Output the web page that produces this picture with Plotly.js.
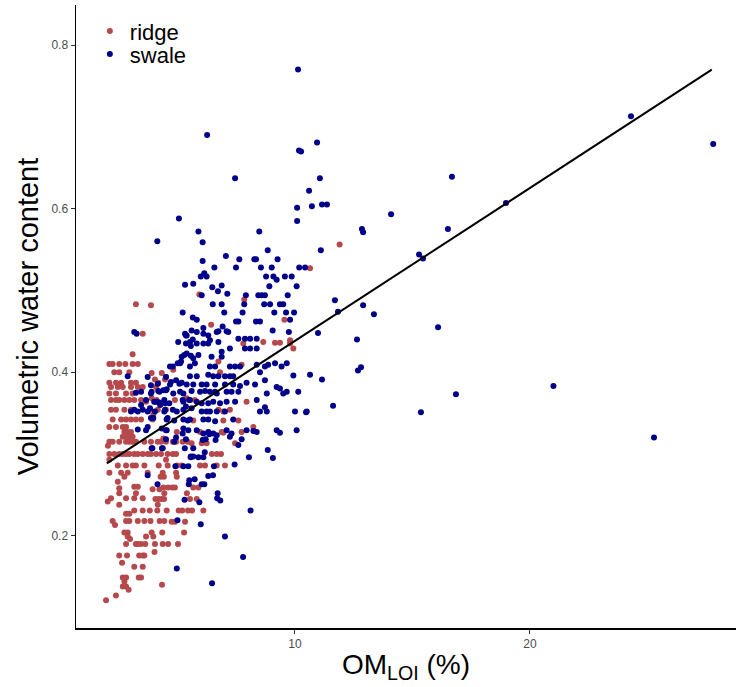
<!DOCTYPE html>
<html>
<head>
<meta charset="utf-8">
<script src="https://cdn.plot.ly/plotly-3.0.1.min.js"></script>
<style>html,body{margin:0;padding:0;background:#fff;}#chart{width:736px;height:687px;}</style>
</head>
<body>
<div id="chart"></div>
<script>
// Ridge points: [OM_LOI (%), volumetric water content]
const ridgePoints = [
  [3.23,0.483],[3.87,0.482],[5.93,0.495],[7.84,0.489],[6.43,0.458],[9.55,0.464],[9.79,0.439],[10.64,0.527],[11.9,0.556],[3.52,0.447],[3.09,0.422],
  [8.65,0.437],[9.15,0.436],[9.36,0.436],[9.79,0.435],[9.93,0.429],[7.8,0.435],[7.73,0.409],[6.74,0.413],[6.81,0.400],
  [2.10,0.41],[2.24,0.41],[2.52,0.41],[2.78,0.41],[3.09,0.41],[3.31,0.41],
  [2.31,0.40],[2.52,0.40],[2.95,0.40],[3.90,0.399],[4.33,0.399],[4.82,0.403],
  [4.04,0.391],[4.47,0.391],[4.51,0.394],
  [2.10,0.387],[2.38,0.387],[2.60,0.387],[3.02,0.387],[3.23,0.387],[4.18,0.387],
  [2.17,0.382],[2.46,0.382],[2.67,0.382],[3.02,0.382],[3.31,0.382],[3.52,0.382],[4.09,0.382],
  [2.10,0.374],[2.38,0.374],[2.81,0.374],[3.09,0.374],
  [2.17,0.366],[2.38,0.366],[2.52,0.366],[2.74,0.366],[2.95,0.366],[3.16,0.366],[3.45,0.366],[3.90,0.368],[4.11,0.366],[4.89,0.366],[5.39,0.368],[5.74,0.366],
  [3.66,0.364],[4.02,0.364],[7.94,0.364],
  [2.17,0.354],[2.38,0.354],[2.74,0.354],[3.02,0.354],[3.83,0.354],[4.16,0.354],[4.51,0.354],[6.74,0.354],[6.95,0.352],[7.23,0.354],
  [3.97,0.348],
  [2.24,0.342],[2.60,0.342],[2.81,0.342],[3.02,0.342],[3.23,0.342],[3.45,0.342],[3.94,0.342],[5.67,0.341],[6.95,0.341],[7.59,0.341],
  [2.10,0.333],[2.38,0.333],[2.67,0.333],[2.81,0.333],[8.23,0.333],
  [2.74,0.327],[2.88,0.327],[3.02,0.327],[4.97,0.327],[5.96,0.327],[6.88,0.327],[7.73,0.327],[6.95,0.326],
  [2.67,0.321],[2.88,0.321],[3.09,0.321],[4.40,0.319],
  [2.10,0.315],[2.24,0.315],[2.52,0.315],[2.81,0.315],[2.95,0.315],[3.09,0.315],[3.23,0.315],[3.59,0.315],[3.87,0.315],[4.16,0.315],[4.30,0.315],[4.51,0.315],[4.80,0.315],[4.94,0.315],[5.22,0.315],[5.43,0.315],[5.60,0.313],[6.03,0.313],[6.24,0.313],[7.45,0.313],
  [2.04,0.310],
  [2.10,0.300],[2.31,0.300],[2.52,0.300],[2.67,0.300],[2.81,0.300],[2.95,0.300],[3.16,0.300],[3.31,0.300],[3.52,0.300],[3.73,0.300],[3.87,0.300],[4.09,0.300],[4.30,0.300],[4.58,0.300],[4.80,0.300],[4.94,0.300],[6.46,0.300],[6.67,0.300],[6.85,0.300],
  [2.10,0.293],[4.51,0.293],
  [2.46,0.286],[2.81,0.286],[3.09,0.286],[3.23,0.286],[3.59,0.286],[4.20,0.286],[4.58,0.286],[4.98,0.286],[5.18,0.286],[5.96,0.286],[6.17,0.286],[6.67,0.286],[7.02,0.286],
  [2.10,0.277],[2.60,0.277],[2.88,0.277],[3.73,0.277],[4.37,0.277],[4.94,0.277],
  [2.74,0.272],[4.28,0.272],[4.42,0.272],[4.97,0.272],
  [2.46,0.266],
  [3.16,0.260],[3.31,0.260],[4.40,0.259],[4.60,0.259],[4.78,0.259],[4.89,0.259],[5.67,0.259],[5.89,0.259],
  [2.52,0.258],[3.94,0.257],[4.23,0.257],
  [2.52,0.252],[3.23,0.252],[4.44,0.252],[5.40,0.252],
  [2.17,0.246],[2.81,0.246],[3.16,0.246],[3.52,0.246],[4.06,0.245],[4.20,0.245],[4.33,0.245],[4.43,0.245],[5.53,0.245],[5.82,0.245],
  [2.03,0.242],
  [2.52,0.238],[4.16,0.238],
  [3.16,0.231],[3.52,0.231],[3.82,0.231],[4.14,0.231],[4.54,0.231],[5.05,0.231],[5.20,0.231],[5.45,0.231],[5.62,0.231],[6.10,0.231],
  [2.81,0.227],[2.95,0.227],
  [2.24,0.218],[2.81,0.218],[2.95,0.218],[3.31,0.218],[3.59,0.218],[3.85,0.218],[4.24,0.218],[4.44,0.218],[4.75,0.217],[4.89,0.217],[5.32,0.217],
  [2.34,0.213],
  [2.74,0.204],[2.88,0.204],[3.90,0.204],[4.35,0.204],[5.28,0.204],
  [2.88,0.199],[3.66,0.199],[3.97,0.199],
  [2.98,0.196],
  [2.81,0.190],[3.23,0.190],[3.31,0.190],[3.45,0.190],[3.63,0.190],[4.04,0.190],[4.37,0.190],[4.60,0.190],[5.02,0.190],
  [4.02,0.180],
  [2.52,0.176],[2.85,0.176],[3.37,0.176],[3.52,0.176],[3.59,0.176],
  [2.64,0.167],
  [3.16,0.162],[3.52,0.162],
  [2.67,0.149],[2.81,0.149],[3.35,0.149],[3.45,0.149],
  [2.74,0.144],[4.34,0.140],
  [2.67,0.138],[2.81,0.138],[2.92,0.134],
  [2.38,0.127],[1.96,0.121]
];

// Swale points: [OM_LOI (%), volumetric water content]
const swalePoints = [
  [10.13,0.770],[24.3,0.713],[27.8,0.679],[6.26,0.690],[10.17,0.671],[10.26,0.670],[10.94,0.681],[11.06,0.637],[7.45,0.637],
  [10.6,0.622],[10.72,0.603],[11.15,0.605],[11.36,0.605],[10.09,0.601],[18.98,0.607],[16.51,0.575],[16.68,0.639],[14.09,0.593],
  [12.85,0.575],[12.9,0.571],[5.06,0.588],[10.09,0.585],[15.28,0.544],[15.45,0.539],[11.1,0.549],
  [11.7,0.488],[11.83,0.474],[13.36,0.471],[12.9,0.482],[16.09,0.455],[12.64,0.440],[12.81,0.406],[9.74,0.449],[10.98,0.448],
  [10.64,0.397],[11.15,0.391],[10.47,0.351],[11.62,0.359],[12.68,0.402],[16.85,0.373],[21.0,0.383],[15.36,0.351],[25.28,0.320],
  [6.47,0.142],[7.79,0.174],[8.11,0.231],[7.02,0.199],[4.97,0.160],
  [5.89,0.572],[8.48,0.572],[4.14,0.560],[6.07,0.559],[8.84,0.549],[7.06,0.542],[7.63,0.538],[8.27,0.538],[8.34,0.538],[9.26,0.538],
  [6.07,0.536],[6.57,0.528],[7.49,0.528],[8.55,0.528],[9.01,0.528],[10.18,0.528],[10.43,0.528],[6.14,0.521],[6.24,0.517],[5.99,0.517],
  [8.77,0.517],[9.08,0.517],[9.22,0.513],[9.57,0.517],[9.86,0.517],[5.32,0.507],[5.67,0.508],[6.88,0.506],[8.91,0.505],[10.07,0.505],
  [6.48,0.504],[6.72,0.499],[7.12,0.496],[6.03,0.494],[7.91,0.494],[8.44,0.494],[8.58,0.494],[8.72,0.494],[9.69,0.494],
  [6.50,0.483],[6.88,0.483],[7.84,0.483],[8.69,0.483],[8.94,0.483],[9.36,0.483],[9.50,0.483],
  [5.22,0.473],[6.99,0.473],[7.77,0.473],[9.12,0.473],[9.62,0.473],[9.96,0.473],[5.65,0.467],[5.82,0.464],[6.92,0.456],
  [7.49,0.462],[7.59,0.462],[8.34,0.462],[8.51,0.462],[9.79,0.464],[9.05,0.451],[6.1,0.454],[5.39,0.445],[5.60,0.451],[5.82,0.449],[6.74,0.450],[7.09,0.450],
  [5.32,0.447],[6.1,0.447],[6.31,0.445],[6.38,0.439],[6.67,0.449],[7.16,0.449],
  [5.03,0.437],[5.53,0.437],[5.82,0.435],[6.1,0.435],[6.31,0.435],[6.74,0.437],
  [7.59,0.441],[7.87,0.441],[8.09,0.441],[8.37,0.441],[7.23,0.429],[7.87,0.429],[8.09,0.429],[8.37,0.429],[6.88,0.425],
  [5.18,0.419],[5.39,0.423],[5.67,0.417],[5.89,0.421],[6.45,0.419],[6.88,0.419],
  [4.68,0.407],[5.11,0.411],[5.53,0.407],[5.74,0.411],[6.38,0.407],[6.6,0.407],[7.23,0.407],[7.45,0.407],[7.66,0.407],
  [8.37,0.409],[8.72,0.407],[8.86,0.409],[9.15,0.411],[9.43,0.407],[9.65,0.411],[8.51,0.400],
  [5.53,0.395],[5.82,0.395],[6.31,0.397],[6.52,0.395],[6.74,0.395],[7.02,0.395],[7.23,0.395],[7.37,0.395],
  [4.68,0.385],[5.18,0.387],[5.39,0.385],[5.67,0.385],[6.03,0.385],[6.24,0.385],[6.60,0.385],[7.02,0.385],[7.37,0.385],[7.66,0.383],[7.94,0.387],[8.30,0.385],
  [8.72,0.390],[9.22,0.382],[9.36,0.380],[9.50,0.374],[9.65,0.376],[9.93,0.396],[10.14,0.376],[8.80,0.374],
  [3.9,0.376],[4.18,0.377],[4.4,0.378],[4.54,0.379],[4.82,0.374],[5.11,0.376],[5.25,0.374],[5.6,0.377],[5.96,0.376],[6.17,0.377],
  [6.38,0.376],[6.6,0.376],[6.67,0.374],[7.09,0.376],[7.3,0.376],[7.59,0.376],
  [4.11,0.364],[4.26,0.360],[4.47,0.362],[5.25,0.364],[5.53,0.366],[5.82,0.364],[6.03,0.362],[6.31,0.362],[6.52,0.364],[6.81,0.362],[7.09,0.364],[7.45,0.364],[8.37,0.366],
  [3.83,0.356],[4.04,0.352],[4.47,0.354],[4.97,0.352],[5.25,0.354],[5.6,0.356],[6.03,0.352],[6.24,0.352],[6.38,0.352],[6.67,0.352],[7.02,0.352],
  [8.51,0.352],[8.72,0.357],[8.8,0.352],[10.0,0.352],[10.5,0.352],
  [3.97,0.344],[4.54,0.342],[5.25,0.342],[5.53,0.342],[6.1,0.342],[6.31,0.342],[6.6,0.340],[7.37,0.342],
  [4.33,0.331],[4.54,0.329],[5.25,0.331],[5.46,0.329],[5.82,0.329],[6.1,0.325],[6.31,0.327],[6.52,0.325],[7.09,0.329],[7.3,0.325],
  [7.94,0.329],[8.37,0.327],[9.22,0.329],[10.07,0.329],[6.67,0.323],[7.23,0.321],
  [3.16,0.449],[3.26,0.447],[5.36,0.445],[5.65,0.440],[5.36,0.435],[5.57,0.432],[5.29,0.421],[5.57,0.420],[5.15,0.413],[5.01,0.411],[4.80,0.407],
  [2.88,0.395],[3.73,0.394],[4.51,0.394],[4.72,0.388],[4.94,0.390],[5.08,0.386],[3.87,0.384],[4.16,0.386],
  [3.23,0.375],[3.45,0.376],[3.87,0.374],[4.23,0.376],[4.51,0.378],
  [3.66,0.366],[4.01,0.364],[4.23,0.363],[4.44,0.366],[4.65,0.362],[5.22,0.366],[5.50,0.366],[3.45,0.360],
  [3.16,0.354],[3.02,0.352],[3.31,0.352],[3.52,0.354],[3.73,0.352],[4.44,0.352],[4.80,0.354],[5.36,0.358],
  [3.87,0.344],[4.58,0.344],[4.86,0.341],[5.43,0.341],[3.73,0.333],[3.66,0.329],[4.51,0.329],[3.31,0.330],
  [3.73,0.274],[4.15,0.263],[4.91,0.285],[5.25,0.285],[5.46,0.285],[5.50,0.268],[5.30,0.244],[5.00,0.219],
  [3.93,0.307],[4.34,0.307],[4.51,0.318],[4.86,0.315],[5.22,0.325],[5.57,0.297],
  [9.36,0.326],[8.84,0.305],[9.06,0.295],[8.04,0.296],[7.43,0.287],[7.59,0.311],[7.73,0.318],[5.99,0.214],
  [6.71,0.252],[6.69,0.246],[6.82,0.243],[5.93,0.241],[5.73,0.269],[6.03,0.263],[6.14,0.263],[5.48,0.263],
  [6.31,0.273],[6.51,0.274],[6.55,0.285],[5.56,0.296],[5.67,0.297],[5.89,0.296],[6.1,0.296],[5.31,0.307],[5.67,0.307],
  [4.37,0.307],[3.9,0.307],[6.16,0.302],[5.36,0.318],[4.94,0.320],[6.07,0.317],[6.2,0.318],[6.62,0.317],[6.35,0.324],[8.23,0.328]
];

// Fitted line endpoints
const fitX = [1.99, 27.74];
const fitY = [0.2885, 0.770];

const xTicks = [10, 20];
const xTickText = ['10', '20'];
const yTicks = [0.2, 0.4, 0.6, 0.8];
const yTickText = ['0.2', '0.4', '0.6', '0.8'];

const FONT = '"Liberation Sans", Arial, Helvetica, sans-serif';

const traces = [
  {
    type: 'scatter', mode: 'markers', name: 'ridge', legend: 'legend',
    x: ridgePoints.map(p => p[0]), y: ridgePoints.map(p => p[1]),
    marker: {color: '#B5494C', size: 6, line: {width: 0}}
  },
  {
    type: 'scatter', mode: 'markers', name: 'swale', legend: 'legend2',
    x: swalePoints.map(p => p[0]), y: swalePoints.map(p => p[1]),
    marker: {color: '#00008B', size: 6, line: {width: 0}}
  },
  {
    type: 'scatter', mode: 'lines', x: fitX, y: fitY, showlegend: false,
    line: {color: '#000000', width: 2}
  }
];

const legendBase = {
  x: 0.021, xanchor: 'left', yanchor: 'middle',
  font: {family: FONT, size: 22, color: '#000'},
  bgcolor: 'rgba(0,0,0,0)', borderwidth: 0, tracegroupgap: 0
};

const layout = {
  width: 736, height: 687,
  margin: {l: 76, r: 0, t: 5, b: 59},
  paper_bgcolor: '#ffffff', plot_bgcolor: '#ffffff',
  font: {family: FONT, color: '#000'},
  showlegend: true,
  legend: Object.assign({}, legendBase, {y: 0.958}),
  legend2: Object.assign({}, legendBase, {y: 0.921}),
  xaxis: {
    range: [0.68, 28.77], tickmode: 'array', tickvals: xTicks, ticktext: xTickText,
    ticks: 'outside', ticklen: 4, tickwidth: 1, tickcolor: '#333',
    showline: true, linecolor: '#000', linewidth: 1.5, mirror: false,
    showgrid: false, zeroline: false,
    tickfont: {family: FONT, size: 12, color: '#4d4d4d'},
    title: {text: 'OM<sub>LOI</sub> (%)', font: {family: FONT, size: 28, color: '#000'}, standoff: 4}
  },
  yaxis: {
    range: [0.0872, 0.849], tickmode: 'array', tickvals: yTicks, ticktext: yTickText,
    ticks: 'outside', ticklen: 4, tickwidth: 1, tickcolor: '#333',
    showline: true, linecolor: '#000', linewidth: 1.5, mirror: false,
    showgrid: false, zeroline: false,
    tickfont: {family: FONT, size: 12, color: '#4d4d4d'},
    title: {text: 'Volumetric water content', font: {family: FONT, size: 29, color: '#000'}, standoff: 4}
  }
};

Plotly.newPlot('chart', traces, layout, {displayModeBar: false, staticPlot: true});
</script>
</body>
</html>
